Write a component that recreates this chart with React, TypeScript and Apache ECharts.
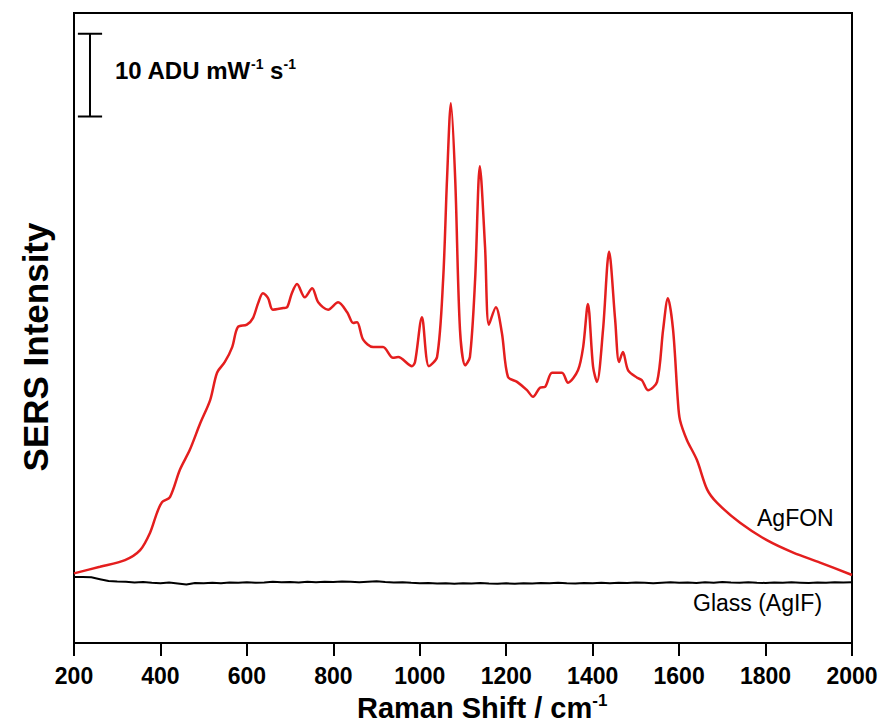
import React, { useEffect, useRef } from "react";
import * as echarts from "echarts";

// Raman shift (cm^-1) and SERS intensity (ADU mW^-1 s^-1) for AgFON
const agfonShift = [
  200, 260, 318, 353, 376, 392, 404, 422, 445, 468, 492, 515, 531, 549, 566, 579, 600, 614, 626, 637,
  649, 660, 684, 693, 704, 716, 734, 751, 765, 788, 811, 832, 846, 855, 869, 892, 915, 938, 950, 982,
  989, 1005, 1021, 1040, 1054, 1063, 1072, 1082, 1093, 1105, 1116, 1128, 1139, 1151, 1160, 1176, 1190, 1204, 1225, 1248,
  1262, 1278, 1290, 1306, 1329, 1343, 1366, 1378, 1389, 1401, 1410, 1424, 1438, 1452, 1461, 1470, 1482, 1503, 1514, 1528,
  1549, 1563, 1574, 1586, 1597, 1602, 1618, 1641, 1665, 1688, 1741, 1803, 1864, 1926, 2000,
];
const agfonIntensity = [
  8.4, 9.2, 10.0, 11.2, 13.3, 15.7, 17.0, 17.6, 20.9, 23.3, 26.5, 29.3, 32.6, 33.9, 35.7, 38.1, 38.4, 39.2, 41.0, 42.2,
  41.6, 40.2, 40.4, 40.5, 42.2, 43.3, 41.7, 42.8, 41.1, 40.2, 41.1, 39.9, 38.6, 38.7, 36.6, 35.7, 35.7, 34.4, 34.5, 33.4,
  33.9, 39.3, 33.4, 34.5, 43.8, 55.9, 65.1, 55.9, 37.8, 33.5, 34.5, 43.8, 57.5, 47.8, 38.4, 40.5, 37.4, 32.1, 31.5, 30.5,
  29.7, 30.8, 30.9, 32.6, 32.6, 31.4, 32.9, 35.7, 40.9, 33.3, 31.5, 37.8, 47.2, 39.0, 33.9, 35.1, 32.9, 32.0, 31.7, 30.5,
  31.5, 37.8, 41.6, 37.8, 29.3, 26.9, 24.5, 22.1, 18.5, 16.9, 14.5, 12.4, 10.9, 9.7, 8.2,
];

// Glass (AgIF) reference spectrum, every 20 cm^-1 from 200 to 2000
const glassStart = 200;
const glassStep = 20;
const glassIntensity = [
  7.95, 7.97, 7.92, 7.7, 7.48, 7.42, 7.38, 7.3, 7.35, 7.28, 7.22, 7.3, 7.18, 7.05, 7.25, 7.2, 7.28, 7.22, 7.3, 7.26,
  7.33, 7.28, 7.3, 7.38, 7.32, 7.36, 7.3, 7.38, 7.34, 7.4, 7.35, 7.42, 7.38, 7.33, 7.4, 7.44, 7.36, 7.3, 7.34, 7.26,
  7.2, 7.25, 7.18, 7.22, 7.15, 7.2, 7.17, 7.23, 7.18, 7.14, 7.2, 7.16, 7.22, 7.18, 7.24, 7.2, 7.27, 7.22, 7.18, 7.25,
  7.2, 7.26, 7.22, 7.28, 7.24, 7.3, 7.26, 7.22, 7.28, 7.33, 7.27, 7.3, 7.25, 7.32, 7.28, 7.35, 7.3, 7.27, 7.33, 7.28,
  7.24, 7.3, 7.26, 7.32, 7.28, 7.24, 7.3, 7.27, 7.33, 7.3, 7.32,
];

// Scale bar: 10 ADU mW^-1 s^-1
const scaleBarX = 237;
const scaleBarBottom = 63.5;
const scaleBarLength = 10;
const scaleBarCapFrom = 209;
const scaleBarCapTo = 265;

const xTicks = [200, 400, 600, 800, 1000, 1200, 1400, 1600, 1800, 2000];

const FONT = "Arial, 'Liberation Sans', Helvetica, sans-serif";

export default function App() {
  const ref = useRef<HTMLDivElement>(null);
  useEffect(() => {
    if (!ref.current) return;
    const chart = echarts.init(ref.current, undefined, { renderer: "svg" });
    const agfon = agfonShift.map((x, i) => [x, agfonIntensity[i]]);
    const glass = glassIntensity.map((v, i) => [glassStart + i * glassStep, v]);
    const top = scaleBarBottom + scaleBarLength;
    const barSegs = [
      [scaleBarX, scaleBarBottom],
      [scaleBarX, top],
      null,
      [scaleBarCapFrom, top],
      [scaleBarCapTo, top],
      null,
      [scaleBarCapFrom, scaleBarBottom],
      [scaleBarCapTo, scaleBarBottom],
    ];
    chart.setOption({
      animation: false,
      backgroundColor: "#ffffff",
      grid: {
        left: 74,
        top: 13,
        right: 33,
        bottom: 80,
        show: true,
        borderColor: "#000",
        borderWidth: 2,
      },
      xAxis: {
        type: "value",
        min: 200,
        max: 2000,
        interval: 200,
        axisLine: { show: true, lineStyle: { color: "#000", width: 2 } },
        axisTick: { show: true, inside: false, length: 13, lineStyle: { color: "#000", width: 2 } },
        splitLine: { show: false },
        axisLabel: {
          color: "#000",
          fontFamily: FONT,
          fontWeight: "bold",
          fontSize: 23,
          margin: 21,
          formatter: (v: number) => (xTicks.includes(v) ? String(v) : ""),
        },
      },
      yAxis: {
        type: "value",
        min: 0,
        max: 76,
        axisLine: { show: true, lineStyle: { color: "#000", width: 2 } },
        axisTick: { show: false },
        axisLabel: { show: false },
        splitLine: { show: false },
      },
      graphic: [
        {
          type: "text",
          x: 35,
          y: 347,
          rotation: Math.PI / 2,
          style: {
            text: "SERS Intensity",
            fill: "#000",
            font: `bold 35px ${FONT}`,
            align: "center",
            verticalAlign: "middle",
          },
        },
        {
          type: "text",
          left: 357,
          top: 692,
          style: {
            text: "Raman Shift / cm{sup|-1}",
            fill: "#000",
            font: `bold 29px ${FONT}`,
            rich: {
              sup: { fontSize: 17, fontWeight: "bold", fontFamily: FONT, padding: [0, 0, 14, 0], fill: "#000" },
            },
          },
        },
        {
          type: "text",
          left: 115,
          top: 57,
          style: {
            text: "10 ADU mW{sup|-1} s{sup|-1}",
            fill: "#000",
            font: `bold 24px ${FONT}`,
            rich: {
              sup: { fontSize: 14, fontWeight: "bold", fontFamily: FONT, padding: [0, 0, 12, 0], fill: "#000" },
            },
          },
        },
        {
          type: "text",
          left: 757,
          top: 506,
          style: { text: "AgFON", fill: "#000", font: `23px ${FONT}` },
        },
        {
          type: "text",
          left: 693,
          top: 591,
          style: { text: "Glass (AgIF)", fill: "#000", font: `23px ${FONT}` },
        },
      ],
      series: [
        {
          name: "Glass (AgIF)",
          type: "line",
          data: glass,
          showSymbol: false,
          lineStyle: { color: "#000", width: 2 },
          z: 2,
        },
        {
          name: "AgFON",
          type: "line",
          data: agfon,
          showSymbol: false,
          smooth: 0.3,
          lineStyle: { color: "#e41e1e", width: 2.5 },
          z: 3,
        },
        {
          name: "scale bar",
          type: "line",
          data: barSegs,
          connectNulls: false,
          showSymbol: false,
          lineStyle: { color: "#000", width: 2 },
          z: 4,
        },
      ],
    });
    return () => chart.dispose();
  }, []);
  return <div ref={ref} style={{ width: 885, height: 723, position: "absolute", left: 0, top: 0 }} />;
}
